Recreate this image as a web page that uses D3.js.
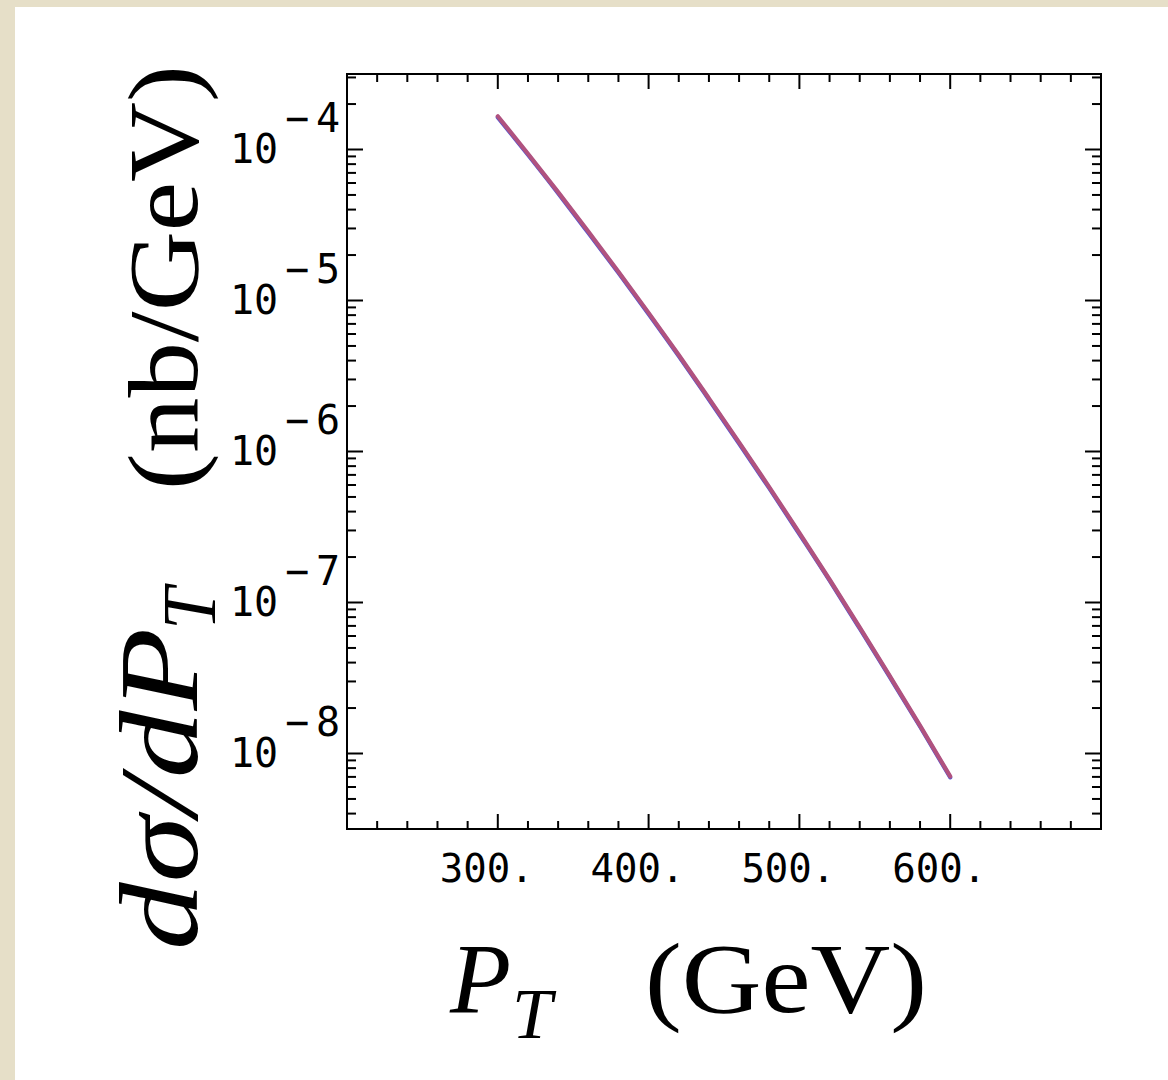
<!DOCTYPE html>
<html><head><meta charset="utf-8">
<script src="https://cdn.jsdelivr.net/npm/d3@7"></script>
<style>
html,body{margin:0;padding:0;background:#fff;}
svg{display:block;}
</style></head>
<body>
<svg id="chart" width="1168" height="1080"></svg>
<script>
// ---- data ----
const ptValues = [300,320,340,360,380,400,420,440,460,480,500,520,540,560,580,600];
const sigmaPink = [1.660e-4,9.38e-5,5.22e-5,2.86e-5,1.55e-5,8.28e-6,4.36e-6,2.25e-6,1.15e-6,5.81e-7,2.89e-7,1.42e-7,6.84e-8,3.25e-8,1.53e-8,7.06e-9];
const sigmaBlue = [1.633e-4,9.23e-5,5.14e-5,2.81e-5,1.525e-5,8.15e-6,4.29e-6,2.21e-6,1.13e-6,5.72e-7,2.84e-7,1.40e-7,6.73e-8,3.20e-8,1.51e-8,6.95e-9];
const xTickValues = [300,400,500,600];
const xTickLabels = ["300.","400.","500.","600."];
const yTickExponents = [-4,-5,-6,-7,-8];
const xDomain = [200,700];
const yDomain = [Math.pow(10,-8.5), Math.pow(10,-3.5)];

// ---- layout ----
const svg = d3.select("#chart");
const L = 347, R = 1101, T = 74, B = 829;
svg.append("rect").attr("x",0).attr("y",0).attr("width",1168).attr("height",1080).attr("fill","#e6dfc8");
svg.append("rect").attr("x",15).attr("y",7).attr("width",1153).attr("height",1073).attr("fill","#ffffff");

const x = d3.scaleLinear().domain(xDomain).range([L,R]);
const y = d3.scaleLog().domain(yDomain).range([B,T]);

const xMinor = d3.range(200,701,20).filter(v => v%100!==0);
const xMajor = d3.range(200,701,100);
const yMajor = yTickExponents.map(e => Math.pow(10,e));
const yMinor = [];
for (let k=-9;k<=-4;k++) for (let m=2;m<=9;m++){ const v=m*Math.pow(10,k); if (v>yDomain[0] && v<yDomain[1]) yMinor.push(v); }

const tickG = svg.append("g").attr("stroke","#000").attr("stroke-width",2);
xMajor.forEach(v=>{
  tickG.append("line").attr("x1",x(v)).attr("x2",x(v)).attr("y1",B).attr("y2",B-15);
  tickG.append("line").attr("x1",x(v)).attr("x2",x(v)).attr("y1",T).attr("y2",T+15);
});
xMinor.forEach(v=>{
  tickG.append("line").attr("x1",x(v)).attr("x2",x(v)).attr("y1",B).attr("y2",B-8);
  tickG.append("line").attr("x1",x(v)).attr("x2",x(v)).attr("y1",T).attr("y2",T+8);
});
yMajor.forEach(v=>{
  tickG.append("line").attr("x1",L).attr("x2",L+16).attr("y1",y(v)).attr("y2",y(v));
  tickG.append("line").attr("x1",R).attr("x2",R-16).attr("y1",y(v)).attr("y2",y(v));
});
yMinor.forEach(v=>{
  tickG.append("line").attr("x1",L).attr("x2",L+9).attr("y1",y(v)).attr("y2",y(v));
  tickG.append("line").attr("x1",R).attr("x2",R-9).attr("y1",y(v)).attr("y2",y(v));
});

svg.append("rect").attr("x",L).attr("y",T).attr("width",R-L).attr("height",B-T)
  .attr("fill","none").attr("stroke","#000").attr("stroke-width",2);

// lines
const line = d3.line().x((d,i)=>x(ptValues[i])).y(d=>y(d)).curve(d3.curveMonotoneX);
svg.append("path").datum(sigmaBlue).attr("d",line).attr("fill","none")
  .attr("stroke","#5656d0").attr("stroke-width",4.2).attr("stroke-linecap","round");
svg.append("path").datum(sigmaPink).attr("d",line).attr("fill","none")
  .attr("stroke","#b0527f").attr("stroke-width",4.2).attr("stroke-linecap","round");

// tick labels
const mono = "'DejaVu Sans Mono', monospace";
xTickValues.forEach((v,i)=>{
  svg.append("text").attr("x",x(v)-58).attr("y",882).attr("font-family",mono)
    .attr("font-size",39).attr("fill","#000").text(xTickLabels[i]);
});
yTickExponents.forEach(e=>{
  const yy = y(Math.pow(10,e));
  svg.append("text").attr("x",254).attr("y",yy+13).attr("text-anchor","middle")
    .attr("font-family",mono).attr("font-size",40).text("10");
  svg.append("text").attr("x",297).attr("y",yy-18).attr("text-anchor","middle")
    .attr("font-family",mono).attr("font-size",40).text("\u2212");
  svg.append("text").attr("x",328).attr("y",yy-18).attr("text-anchor","middle")
    .attr("font-family",mono).attr("font-size",40).text(String(-e));
});

// axis titles
const serif = "'Liberation Serif', 'Times New Roman', serif";
const bt = svg.append("g").attr("font-family",serif).attr("fill","#000");
bt.append("text").attr("x",450).attr("y",1012).attr("font-size",100).attr("font-style","italic").text("P");
bt.append("text").attr("x",512).attr("y",1038).attr("font-size",72).attr("font-style","italic").text("T");
bt.append("text").attr("x",645).attr("y",1012).attr("font-size",100)
  .attr("textLength",282).attr("lengthAdjust","spacingAndGlyphs").text("(GeV)");

const lt = svg.append("g").attr("transform","translate(197,950) rotate(-90)")
  .attr("font-family",serif).attr("fill","#000");
lt.append("text").attr("x",0).attr("y",0).attr("font-size",112).attr("font-style","italic")
  .attr("textLength",322).attr("lengthAdjust","spacingAndGlyphs").text("d\u03c3/dP");
lt.append("text").attr("x",320).attr("y",18).attr("font-size",76).attr("font-style","italic").text("T");
lt.append("text").attr("x",460).attr("y",0).attr("font-size",100)
  .attr("textLength",425).attr("lengthAdjust","spacingAndGlyphs").text("(nb/GeV)");
</script>
</body></html>
